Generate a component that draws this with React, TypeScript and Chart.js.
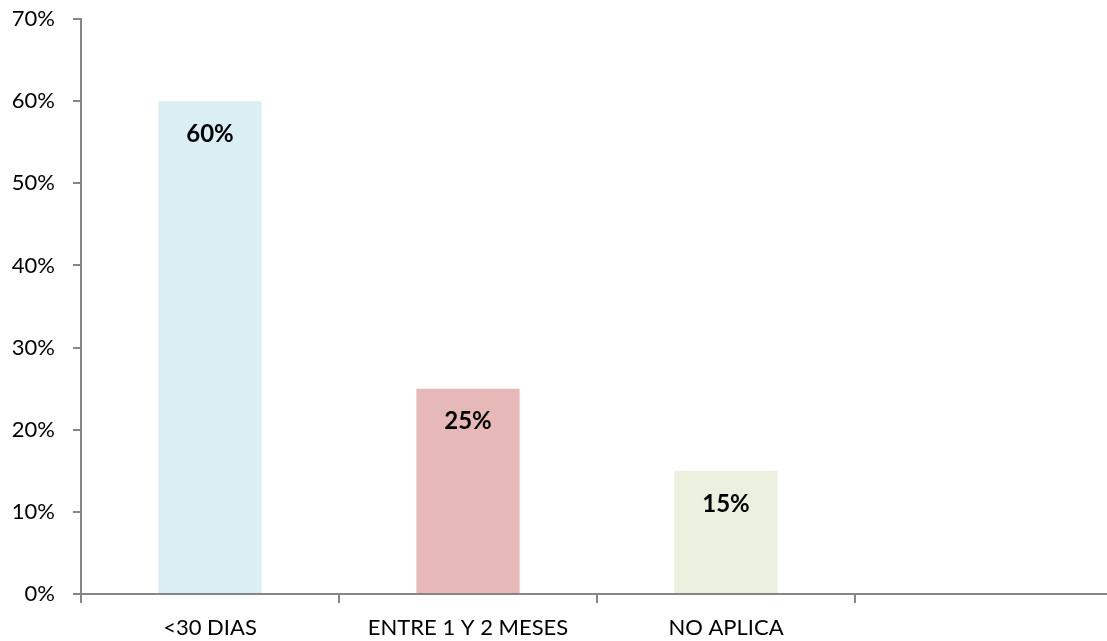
import React, { useEffect, useRef } from "react";
import { Chart, registerables } from "chart.js";

Chart.register(...registerables);

// Categories along the horizontal axis (the last slot is an empty category)
const categories: string[] = ["<30 DIAS", "ENTRE 1 Y 2 MESES", "NO APLICA", ""];
// Share of responses per category, in percent
const shares: (number | null)[] = [60, 25, 15, null];
// Fill colour of each bar
const barColors: string[] = ["#DAEEF3", "#E6B9B8", "#EBF1DE", "rgba(0,0,0,0)"];
// Vertical axis range and step, in percent
const yMax = 70;
const yStep = 10;

const AXIS_COLOR = "#868686";
const FONT_FAMILY = "Lato, 'Open Sans', sans-serif";

// Draws the bold percentage inside the top of each bar
const barValueLabels = {
  id: "barValueLabels",
  afterDatasetsDraw(chart: any) {
    const { ctx } = chart;
    const meta = chart.getDatasetMeta(0);
    const data = chart.data.datasets[0].data as (number | null)[];
    ctx.save();
    ctx.font = `bold 24px ${FONT_FAMILY}`;
    ctx.fillStyle = "#000000";
    ctx.textAlign = "center";
    ctx.textBaseline = "middle";
    meta.data.forEach((bar: any, i: number) => {
      const v = data[i];
      if (v === null || v === undefined) return;
      ctx.fillText(`${v}%`, bar.x, bar.y + 33);
    });
    ctx.restore();
  },
};

export default function App() {
  const canvasRef = useRef<HTMLCanvasElement | null>(null);

  useEffect(() => {
    if (!canvasRef.current) return;
    const chart = new Chart(canvasRef.current, {
      type: "bar",
      data: {
        labels: categories,
        datasets: [
          {
            data: shares,
            backgroundColor: barColors,
            borderWidth: 0,
            barPercentage: 0.4,
            categoryPercentage: 1,
          },
        ],
      },
      options: {
        responsive: false,
        animation: false,
        layout: { padding: { top: 19, right: 7, left: 0, bottom: 0 } },
        plugins: {
          legend: { display: false },
          tooltip: { enabled: false },
        },
        scales: {
          x: {
            offset: true,
            border: { display: true, color: AXIS_COLOR, width: 2 },
            grid: {
              display: true,
              offset: true,
              drawOnChartArea: false,
              drawTicks: true,
              tickLength: 9,
              color: AXIS_COLOR,
              lineWidth: 2,
            },
            ticks: {
              color: "#000000",
              padding: 12,
              maxRotation: 0,
              autoSkip: false,
              font: { family: FONT_FAMILY, size: 22 },
            },
            afterFit(scale: any) {
              scale.height = 47;
              scale.paddingLeft = 0;
              scale.paddingRight = 0;
            },
          },
          y: {
            min: 0,
            max: yMax,
            border: { display: true, color: AXIS_COLOR, width: 2 },
            grid: {
              display: true,
              drawOnChartArea: false,
              drawTicks: true,
              tickLength: 8,
              color: AXIS_COLOR,
              lineWidth: 2,
            },
            ticks: {
              stepSize: yStep,
              color: "#000000",
              padding: 18,
              font: { family: FONT_FAMILY, size: 22 },
              callback: (v: any) => `${v}%`,
            },
            afterFit(scale: any) {
              scale.width = 81;
              scale.paddingTop = 0;
              scale.paddingBottom = 0;
            },
          },
        },
      },
      plugins: [barValueLabels],
    });
    return () => chart.destroy();
  }, []);

  return (
    <div
      style={{
        position: "fixed",
        left: 0,
        top: 0,
        width: 1107,
        height: 641,
        overflow: "hidden",
        background: "#ffffff",
      }}
    >
      <canvas ref={canvasRef} width={1120} height={641} style={{ display: "block" }} />
    </div>
  );
}
